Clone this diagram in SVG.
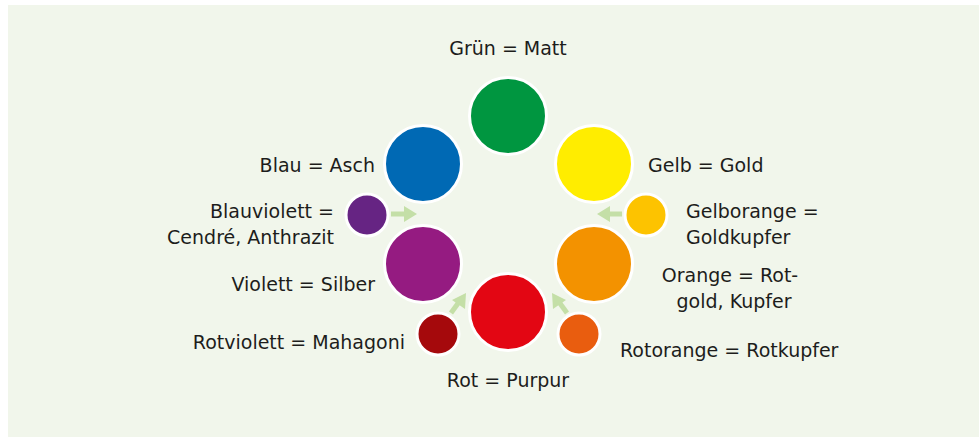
<svg xmlns="http://www.w3.org/2000/svg" width="979" height="437" viewBox="0 0 979 437">
<style>
.c{stroke:#fff;stroke-width:3}
.t{font-family:"DejaVu Sans",sans-serif;font-size:19px;fill:#1d1d1b}
.e{text-anchor:end}
.m{text-anchor:middle}
.a{fill:none;stroke:#c4dfa7;stroke-width:5}
.h{fill:#c4dfa7}
</style>
<rect x="0" y="0" width="979" height="437" fill="#fff"/>
<rect x="8" y="5" width="971" height="432" fill="#f1f6eb"/>
<g id="connectors">
<line class="a" x1="391" y1="214" x2="406" y2="214"/><polygon class="h" points="417,214 404,206 404,222"/>
<line class="a" x1="622" y1="214" x2="608" y2="214"/><polygon class="h" points="597,214 610,206 610,222"/>
<line class="a" x1="451" y1="313" x2="459" y2="302"/><polygon class="h" points="466,293 452,300 465,309"/>
<line class="a" x1="567" y1="313" x2="559" y2="302"/><polygon class="h" points="552,293 566,300 553,309"/>
</g>
<g id="gruen"><circle class="c" cx="508" cy="116" r="38.5" fill="#009640"/><text class="t m" x="508" y="55">Grün = Matt</text></g>
<g id="blau"><circle class="c" cx="423" cy="164" r="38.5" fill="#0069b4"/><text class="t e" x="375" y="172">Blau = Asch</text></g>
<g id="gelb"><circle class="c" cx="594" cy="164" r="38.5" fill="#ffed00"/><text class="t" x="648" y="172">Gelb = Gold</text></g>
<g id="blauviolett"><circle class="c" cx="367" cy="215" r="21" fill="#662483"/><text class="t e" x="334" y="218">Blauviolett =</text><text class="t e" x="334" y="244">Cendré, Anthrazit</text></g>
<g id="gelborange"><circle class="c" cx="646" cy="215" r="21" fill="#fdc300"/><text class="t" x="686" y="218">Gelborange =</text><text class="t" x="686" y="244">Goldkupfer</text></g>
<g id="violett"><circle class="c" cx="423" cy="264" r="38.5" fill="#951b81"/><text class="t e" x="375" y="291">Violett = Silber</text></g>
<g id="orange"><circle class="c" cx="594" cy="264" r="38.5" fill="#f39200"/><text class="t m" x="730" y="282">Orange = Rot-</text><text class="t m" x="734" y="308">gold, Kupfer</text></g>
<g id="rot"><circle class="c" cx="508" cy="312" r="38.5" fill="#e30613"/><text class="t m" x="508" y="387">Rot = Purpur</text></g>
<g id="rotviolett"><circle class="c" cx="438" cy="334" r="21" fill="#a5090c"/><text class="t e" x="405" y="349">Rotviolett = Mahagoni</text></g>
<g id="rotorange"><circle class="c" cx="579" cy="334" r="21" fill="#e95d0f"/><text class="t" x="620" y="357">Rotorange = Rotkupfer</text></g>
</svg>
